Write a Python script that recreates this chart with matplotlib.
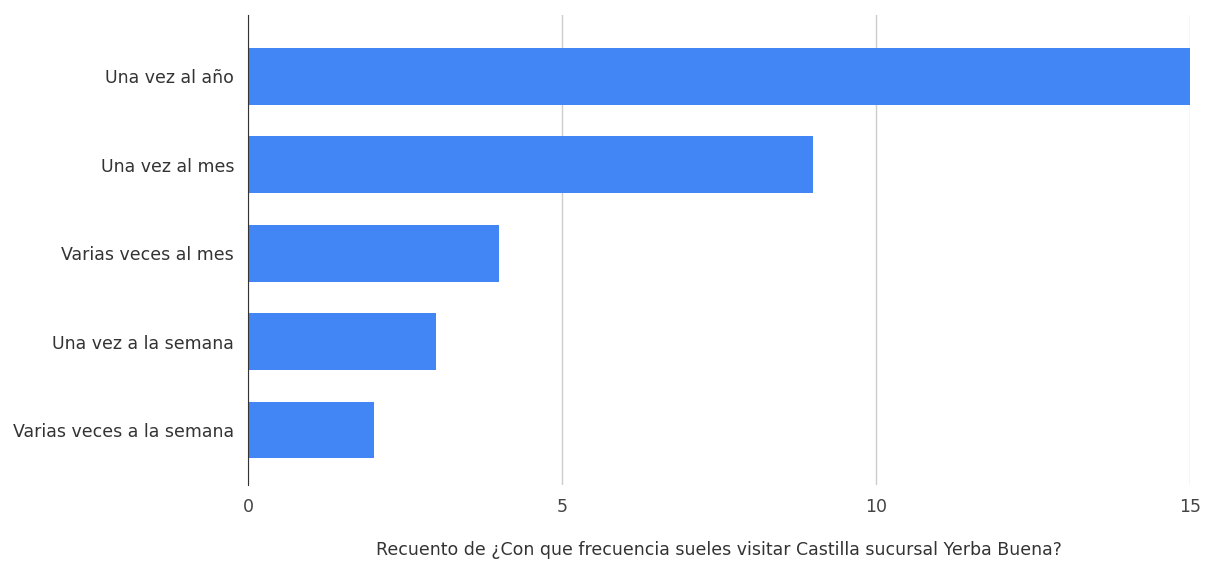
import matplotlib.pyplot as plt
import numpy as np

plt.rcParams['font.family'] = ['DejaVu Sans']

categories = ["Una vez al año", "Una vez al mes", "Varias veces al mes",
              "Una vez a la semana", "Varias veces a la semana"]
counts = [15, 9, 4, 3, 2]
xticks = [0, 5, 10, 15]
xlabel = "Recuento de ¿Con que frecuencia sueles visitar Castilla sucursal Yerba Buena?"

fig = plt.figure(figsize=(12.16, 5.62), dpi=100)
ax = fig.add_axes([0.204, 0.137, 0.7746, 0.836])

y = np.arange(len(categories))
ax.barh(y, counts, height=0.64, color="#4285F4", zorder=3)

ax.set_xlim(0, 15)
ax.set_ylim(4.62, -0.69)
ax.set_yticks(y)
ax.set_yticklabels(categories, fontsize=12.5, color="#333333")
ax.set_xticks(xticks)
ax.set_xticklabels([str(t) for t in xticks], fontsize=12.5, color="#444444")
ax.tick_params(axis='y', length=0, pad=10)
ax.tick_params(axis='x', length=0, pad=9)

ax.grid(axis='x', color="#cccccc", linewidth=1, zorder=0)
for s in ['top', 'right', 'bottom']:
    ax.spines[s].set_visible(False)
ax.spines['left'].set_color("#333333")
ax.spines['left'].set_zorder(4)

ax.set_xlabel(xlabel, fontsize=12.5, color="#333333", labelpad=18)

fig.savefig("out.png", dpi=100)
